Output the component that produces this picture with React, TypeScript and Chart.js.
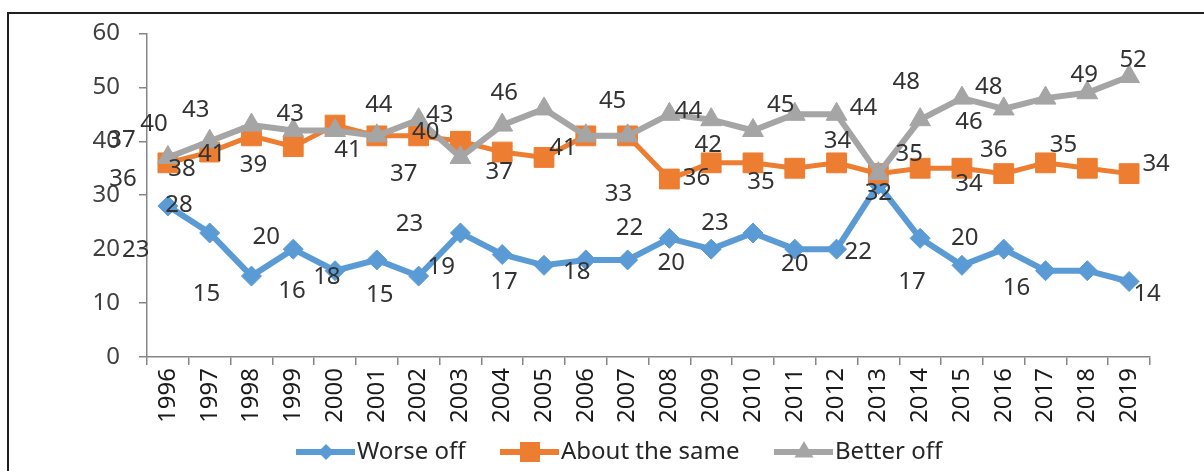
import React, { useEffect, useRef } from "react";
import { Chart, registerables } from "chart.js";

Chart.register(...registerables);

const years = [
  "1996", "1997", "1998", "1999", "2000", "2001", "2002", "2003", "2004", "2005", "2006", "2007",
  "2008", "2009", "2010", "2011", "2012", "2013", "2014", "2015", "2016", "2017", "2018", "2019",
];
const worseOff = [28, 23, 15, 20, 16, 18, 15, 23, 19, 17, 18, 18, 22, 20, 23, 20, 20, 32, 22, 17, 20, 16, 16, 14];
const aboutSame = [36, 38, 41, 39, 43, 41, 41, 40, 38, 37, 41, 41, 33, 36, 36, 35, 36, 34, 35, 35, 34, 36, 35, 34];
const betterOff = [37, 40, 43, 42, 42, 41, 44, 37, 43, 46, 41, 41, 45, 44, 42, 45, 45, 34, 44, 48, 46, 48, 49, 52];
const seriesNames = ["Worse off", "About the same", "Better off"];
const yMin = 0;
const yMax = 60;
const yStep = 10;

// Data labels as printed on the picture: [point index, text]
const worseLabels: [number, string][] = [
  [0, "28"], [1, "23"], [2, "15"], [3, "20"], [4, "16"], [5, "18"], [6, "15"], [7, "23"], [8, "19"],
  [9, "17"], [10, "18"], [12, "22"], [13, "20"], [14, "23"], [15, "20"], [17, "32"], [18, "22"],
  [19, "17"], [20, "20"], [21, "16"], [23, "14"],
];
const sameLabels: [number, string][] = [
  [0, "36"], [0, "38"], [1, "41"], [2, "39"], [4, "41"], [6, "37"], [6, "40"], [8, "37"], [9, "41"],
  [12, "33"], [12, "36"], [13, "42"], [14, "35"], [16, "34"], [18, "35"], [19, "34"], [20, "36"],
  [21, "35"], [23, "34"],
];
const betterLabels: [number, string][] = [
  [0, "37"], [0, "40"], [1, "43"], [3, "43"], [5, "44"], [6, "43"], [8, "46"], [11, "45"], [12, "44"],
  [15, "45"], [16, "44"], [18, "48"], [19, "46"], [20, "48"], [22, "49"], [23, "52"],
];

// Pixel offsets of each label from its anchor point (style / placement only)
const worseOffsets: [number, number][] = [
  [11, -1], [-74, 17], [-45, 18], [-27, -12], [-43, 20], [-50, 17], [-39, 19], [-51, -9], [-61, 13],
  [-40, 17], [-9, 12], [-40, -10], [-40, 14], [-38, -10], [0, 15], [0, 9], [-62, 14],
  [-50, 17], [-39, -11], [-29, 17], [18, 13],
];
const sameOffsets: [number, number][] = [
  [-45, 16], [14, 6], [2, 2], [2, 29], [13, 25], [-15, 38], [7, -4], [-3, 20], [19, -9],
  [-51, 15], [27, -1], [-3, -18], [8, 19], [1, -22], [-11, -14], [7, 16], [-10, -23],
  [18, -18], [27, -9],
];
const betterOffsets: [number, number][] = [
  [-46, -17], [-14, -33], [-14, -31], [-3, -16], [2, -31], [21, -5], [2, -32], [-15, -35], [19, -3],
  [-14, -9], [27, -6], [-14, -38], [7, 24], [-15, -22], [-3, -18], [4, -16],
];

const colors = ["#5B9BD5", "#ED7D31", "#A5A5A5"];
const FONT = "'Noto Sans', 'Open Sans', sans-serif";

function drawMarker(ctx: CanvasRenderingContext2D, kind: number, x: number, y: number, r: number, color: string) {
  ctx.save();
  ctx.fillStyle = color;
  ctx.beginPath();
  if (kind === 0) {
    ctx.moveTo(x, y - r);
    ctx.lineTo(x + r, y);
    ctx.lineTo(x, y + r);
    ctx.lineTo(x - r, y);
    ctx.closePath();
  } else if (kind === 1) {
    ctx.rect(x - r, y - r, 2 * r, 2 * r);
  } else {
    const h = r * 1.5;
    ctx.moveTo(x, y - r);
    ctx.lineTo(x + r * 0.866, y + r * 0.5);
    ctx.lineTo(x - r * 0.866, y + r * 0.5);
    ctx.closePath();
    void h;
  }
  ctx.fill();
  ctx.restore();
}

const framePlugin = {
  id: "frame",
  beforeDraw(chart: any) {
    const ctx = chart.ctx as CanvasRenderingContext2D;
    ctx.save();
    ctx.strokeStyle = "#1f1f1f";
    ctx.lineWidth = 2;
    ctx.beginPath();
    ctx.moveTo(8, 471);
    ctx.lineTo(8, 13);
    ctx.lineTo(1204, 13);
    ctx.stroke();
    ctx.restore();
  },
};

const labelsPlugin = {
  id: "pointLabels",
  afterDatasetsDraw(chart: any) {
    const ctx = chart.ctx as CanvasRenderingContext2D;
    const sets: [[number, string][], [number, number][]][] = [
      [worseLabels, worseOffsets],
      [sameLabels, sameOffsets],
      [betterLabels, betterOffsets],
    ];
    ctx.save();
    ctx.font = `24px ${FONT}`;
    ctx.fillStyle = "#333333";
    ctx.textAlign = "center";
    ctx.textBaseline = "middle";
    sets.forEach(([labels, offsets], si) => {
      const meta = chart.getDatasetMeta(si);
      labels.forEach(([idx, text], k) => {
        const pt = meta.data[idx];
        if (!pt) return;
        const [dx, dy] = offsets[k];
        ctx.fillText(text, pt.x + dx, pt.y + dy);
      });
    });
    ctx.restore();
  },
};

const legendPlugin = {
  id: "customLegend",
  afterDraw(chart: any) {
    const ctx = chart.ctx as CanvasRenderingContext2D;
    const y = 452;
    const starts = [296, 500, 774];
    const sizes = [8, 10, 11];
    ctx.save();
    ctx.font = `24px ${FONT}`;
    ctx.textBaseline = "middle";
    ctx.textAlign = "left";
    seriesNames.forEach((name, i) => {
      const x0 = starts[i];
      ctx.strokeStyle = colors[i];
      ctx.lineWidth = 6;
      ctx.beginPath();
      ctx.moveTo(x0, y);
      ctx.lineTo(x0 + 59, y);
      ctx.stroke();
      drawMarker(ctx, i, x0 + 30, y, sizes[i], colors[i]);
      ctx.fillStyle = "#262626";
      ctx.fillText(name, x0 + 61, y);
    });
    ctx.restore();
  },
};

export default function App() {
  const canvasRef = useRef<HTMLCanvasElement | null>(null);

  useEffect(() => {
    if (!canvasRef.current) return;
    const axisGray = "#868686";
    const chart = new Chart(canvasRef.current, {
      type: "line",
      data: {
        labels: years,
        datasets: [
          {
            label: seriesNames[0],
            data: worseOff,
            borderColor: colors[0],
            backgroundColor: colors[0],
            borderWidth: 6,
            pointStyle: "rectRot",
            pointRadius: 10,
            pointBorderWidth: 1,
            pointBorderColor: colors[0],
            pointBackgroundColor: colors[0],
            tension: 0,
            order: 3,
          },
          {
            label: seriesNames[1],
            data: aboutSame,
            borderColor: colors[1],
            backgroundColor: colors[1],
            borderWidth: 5,
            pointStyle: "rect",
            pointRadius: 14,
            pointBorderWidth: 1,
            pointBorderColor: colors[1],
            pointBackgroundColor: colors[1],
            tension: 0,
            order: 2,
          },
          {
            label: seriesNames[2],
            data: betterOff,
            borderColor: colors[2],
            backgroundColor: colors[2],
            borderWidth: 6,
            pointStyle: "triangle",
            pointRadius: 12,
            pointBorderWidth: 1,
            pointBorderColor: colors[2],
            pointBackgroundColor: colors[2],
            tension: 0,
            order: 1,
          },
        ],
      },
      options: {
        responsive: false,
        animation: false,
        devicePixelRatio: 1,
        layout: { padding: { top: 29, right: 54, left: 0, bottom: 0 } },
        plugins: {
          legend: { display: false },
          tooltip: { enabled: false },
          title: { display: false },
        },
        scales: {
          x: {
            type: "category",
            offset: true,
            grid: {
              display: true,
              drawOnChartArea: false,
              offset: true,
              tickLength: 8,
              color: axisGray,
              lineWidth: 1.5,
            },
            border: { display: true, color: axisGray, width: 1.5 },
            ticks: {
              minRotation: 90,
              maxRotation: 90,
              autoSkip: false,
              padding: 3,
              color: "#1a1a1a",
              font: { family: FONT, size: 24 },
            },
            afterFit: (s: any) => {
              s.height = 114;
            },
          },
          y: {
            min: yMin,
            max: yMax,
            ticks: {
              stepSize: yStep,
              padding: 19,
              color: "#404040",
              font: { family: FONT, size: 24 },
            },
            grid: {
              display: true,
              drawOnChartArea: false,
              tickLength: 8,
              color: axisGray,
              lineWidth: 1.5,
            },
            border: { display: true, color: axisGray, width: 1.5 },
            afterFit: (s: any) => {
              s.width = 147;
            },
          },
        },
      },
      plugins: [framePlugin, labelsPlugin, legendPlugin],
    });
    return () => chart.destroy();
  }, []);

  return (
    <div style={{ position: "absolute", left: 0, top: 0, width: 1204, height: 471, background: "#fff" }}>
      <canvas ref={canvasRef} width={1204} height={471} style={{ display: "block" }} />
    </div>
  );
}
